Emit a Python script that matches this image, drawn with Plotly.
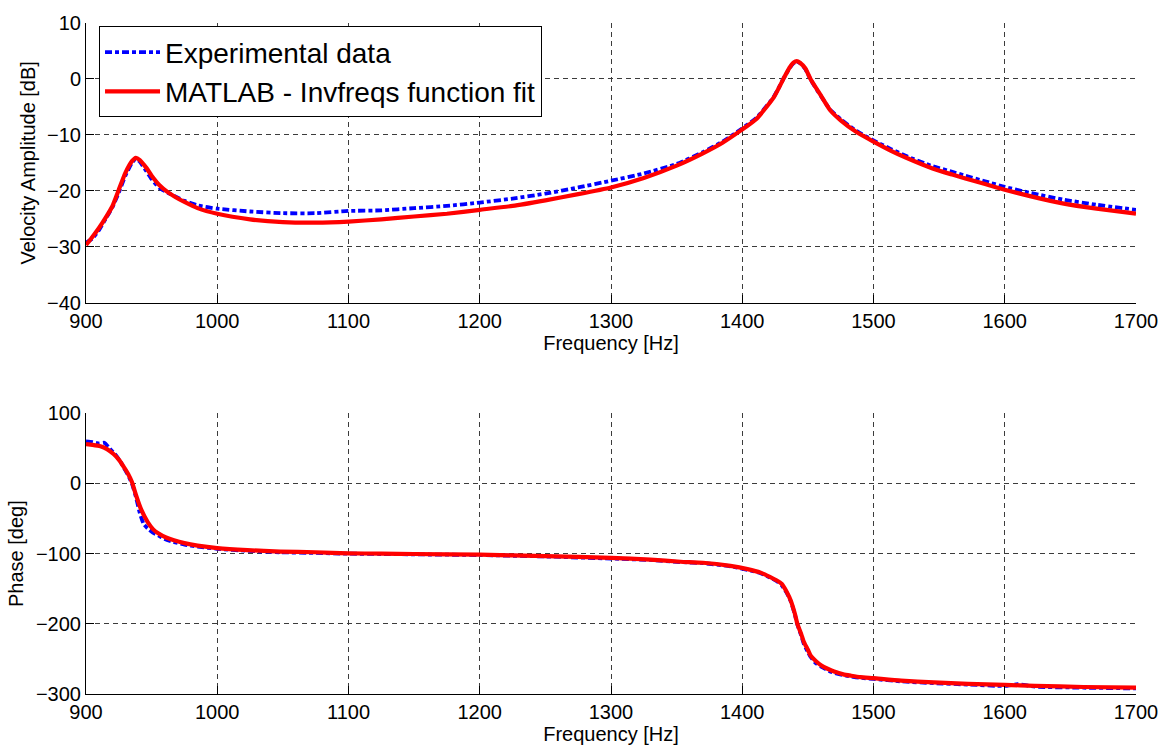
import plotly.graph_objects as go

# ---------------- data ----------------
# Magnitude – fitted model (red)
fit_mag_f = [900, 905, 910, 915, 920, 925, 930, 935, 938, 941, 946, 950, 956, 962, 968, 975, 985,
             1000, 1025, 1050, 1075, 1100, 1125, 1150, 1175, 1200, 1225, 1250, 1275, 1300, 1325,
             1350, 1370, 1385, 1399, 1411, 1424, 1432, 1436, 1439, 1441.5, 1444, 1448, 1452, 1460,
             1467, 1475, 1487, 1500, 1513, 1525, 1545, 1560, 1570, 1585, 1600, 1620, 1645, 1670, 1700]
fit_mag_db = [-29.7, -28.2, -26.6, -24.8, -22.8, -19.8, -16.8, -14.7, -14.1, -14.5, -15.9, -17.3,
              -19.0, -20.2, -21.1, -22.0, -23.1, -24.1, -25.1, -25.6, -25.7, -25.5, -25.1, -24.6,
              -24.1, -23.4, -22.7, -21.7, -20.6, -19.4, -17.7, -15.5, -13.3, -11.4, -9.2, -7.1,
              -3.3, 0.3, 2.0, 2.9, 3.2, 2.9, 1.9, 0.0, -3.0, -5.6, -7.4, -9.5, -11.2, -12.8, -14.1,
              -16.0, -17.1, -17.8, -18.8, -19.8, -21.0, -22.3, -23.2, -24.1]

# Magnitude – experimental data (blue)
exp_mag_f = [900, 905, 910, 915, 920, 925, 930, 935, 938, 941, 946, 950, 956, 962, 968, 975, 985,
             1000, 1025, 1050, 1075, 1100, 1125, 1150, 1175, 1200, 1225, 1250, 1275, 1300, 1325,
             1350, 1370, 1385, 1399, 1411, 1424, 1432, 1436, 1439, 1441.5, 1444, 1448, 1452, 1460,
             1467, 1475, 1487, 1500, 1513, 1525, 1545, 1560, 1570, 1585, 1600, 1620, 1645, 1670, 1700]
exp_mag_db = [-29.3, -28.5, -27.0, -25.0, -23.0, -20.3, -17.3, -15.0, -14.3, -14.8, -16.5, -17.9,
              -19.5, -20.3, -21.0, -21.8, -22.6, -23.2, -23.7, -24.0, -24.0, -23.6, -23.5, -23.1,
              -22.7, -22.1, -21.4, -20.5, -19.4, -18.2, -16.9, -15.2, -13.1, -11.2, -9.0, -6.9,
              -3.2, 0.3, 1.9, 2.8, 3.1, 2.8, 1.8, -0.1, -3.1, -5.5, -7.2, -9.3, -11.0, -12.5, -13.8,
              -15.6, -16.6, -17.3, -18.3, -19.3, -20.4, -21.6, -22.5, -23.4]

# Phase – fitted model (red)
fit_ph_f = [900, 905, 911, 916, 921, 925, 929, 932, 935, 938, 942, 947, 951, 955, 961, 967, 975,
            985, 1000, 1023, 1048, 1075, 1100, 1125, 1150, 1200, 1250, 1300, 1330, 1353, 1370,
            1391, 1404, 1414, 1421, 1426, 1430, 1434, 1437, 1440, 1442, 1445, 1447, 1450, 1452,
            1456, 1460, 1465, 1470, 1477, 1483, 1490, 1500, 1521, 1546, 1572, 1600, 1623, 1660, 1700]
fit_ph_deg = [56, 55, 53, 49, 42, 34, 23, 14, 2, -16, -37, -55, -65, -71, -77, -81, -85, -88.5,
              -92, -95, -97, -98, -99.5, -100, -100.5, -101.5, -103.5, -106, -108.5, -111.5, -113,
              -117.5, -122, -127, -133, -138, -143, -155, -167, -185, -200, -215, -226, -237, -245,
              -253, -259, -264, -268, -272, -274, -276, -277.5, -281, -283.5, -285.5, -287, -288.3,
              -290, -291]

# Phase – experimental data (blue)
exp_ph_f = [900, 905, 910, 914, 918, 922, 926, 929, 932, 935, 938, 941, 944, 947, 951, 955, 960,
            966, 975, 985, 1000, 1023, 1048, 1075, 1100, 1125, 1150, 1200, 1250, 1300, 1330, 1353,
            1370, 1391, 1404, 1414, 1421, 1426, 1430, 1434, 1437, 1440, 1442, 1445, 1447, 1450,
            1452, 1456, 1460, 1465, 1470, 1477, 1483, 1490, 1500, 1521, 1546, 1572, 1600, 1610,
            1623, 1660, 1700]
exp_ph_deg = [60, 59, 57, 58, 50, 42, 32, 22, 12, 0, -19, -42, -58, -64, -70, -74, -79, -83, -87,
              -90, -93, -96, -98, -99, -100, -100.5, -101, -102, -104, -107, -109, -112, -113.5,
              -118, -123, -128, -134, -139, -145, -156, -168, -186, -201, -217, -229, -240, -247,
              -256, -261, -266, -270, -273, -275, -277, -278.5, -282, -284.5, -286.5, -288.5, -286,
              -289.5, -291, -292]

x_ticks = [900, 1000, 1100, 1200, 1300, 1400, 1500, 1600, 1700]
mag_ticks = [-40, -30, -20, -10, 0, 10]
ph_ticks = [-300, -200, -100, 0, 100]

# ---------------- figure ----------------
FONT = "Liberation Sans, Arial, sans-serif"
BLUE = "#0000ff"
RED = "#ff0000"
exp_dash = "7px,3px,4px,3px"
EXP_W = 3.8
FIT_W = 4.2

fig = go.Figure()
fig.add_trace(go.Scatter(x=exp_mag_f, y=exp_mag_db, mode="lines", name="Experimental data",
                         line=dict(color=BLUE, width=EXP_W, dash=exp_dash, shape="spline", smoothing=0.5),
                         xaxis="x", yaxis="y"))
fig.add_trace(go.Scatter(x=fit_mag_f, y=fit_mag_db, mode="lines", name="MATLAB - Invfreqs function fit",
                         line=dict(color=RED, width=FIT_W, shape="spline", smoothing=0.5),
                         xaxis="x", yaxis="y"))
fig.add_trace(go.Scatter(x=exp_ph_f, y=exp_ph_deg, mode="lines", showlegend=False,
                         line=dict(color=BLUE, width=EXP_W, dash=exp_dash, shape="spline", smoothing=0.5),
                         xaxis="x2", yaxis="y2"))
fig.add_trace(go.Scatter(x=fit_ph_f, y=fit_ph_deg, mode="lines", showlegend=False,
                         line=dict(color=RED, width=FIT_W, shape="spline", smoothing=0.5),
                         xaxis="x2", yaxis="y2"))

GRID = "#3c3c3c"
common = dict(showgrid=True, gridcolor=GRID, griddash="5px,4px", gridwidth=1,
              showline=True, linecolor="black", linewidth=1, ticks="inside", ticklen=8,
              tickcolor="black", zeroline=False, tickfont=dict(family=FONT, size=20, color="black"))
mirror = dict(showgrid=False, showline=False, ticks="inside", ticklen=8, tickcolor="black",
              showticklabels=False, zeroline=False)

top_dom = [0.5832, 1.0]
bot_dom = [0.0, 0.4183]
TITLE_FONT = dict(family=FONT, size=20, color="black")

fig.update_layout(
    width=1170, height=752,
    margin=dict(l=86, r=33, t=15, b=58),
    paper_bgcolor="white", plot_bgcolor="white",
    font=dict(family=FONT, color="black"),
    xaxis=dict(domain=[0, 1], anchor="y", range=[900, 1700], tickvals=x_ticks,
               title=dict(text="Frequency [Hz]", font=TITLE_FONT, standoff=2), **common),
    yaxis=dict(domain=top_dom, anchor="x", range=[-40, 10], tickvals=mag_ticks,
               title=dict(text="Velocity Amplitude [dB]", font=TITLE_FONT, standoff=6), **common),
    xaxis2=dict(domain=[0, 1], anchor="y2", range=[900, 1700], tickvals=x_ticks,
                title=dict(text="Frequency [Hz]", font=TITLE_FONT, standoff=2), **common),
    yaxis2=dict(domain=bot_dom, anchor="x2", range=[-300, 100], tickvals=ph_ticks,
                title=dict(text="Phase [deg]", font=TITLE_FONT, standoff=6), **common),
    xaxis3=dict(overlaying="x", side="top", anchor="y", range=[900, 1700], tickvals=x_ticks, **mirror),
    yaxis3=dict(overlaying="y", side="right", anchor="x", range=[-40, 10], tickvals=mag_ticks, **mirror),
    xaxis4=dict(overlaying="x2", side="top", anchor="y2", range=[900, 1700], tickvals=x_ticks, **mirror),
    yaxis4=dict(overlaying="y2", side="right", anchor="x2", range=[-300, 100], tickvals=ph_ticks, **mirror),
    legend=dict(x=0.0124, y=0.995, xanchor="left", yanchor="top",
                bgcolor="white", bordercolor="black", borderwidth=1,
                font=dict(family=FONT, size=28, color="black"), itemwidth=55),
    showlegend=True,
)

fig.write_html("out.html")
